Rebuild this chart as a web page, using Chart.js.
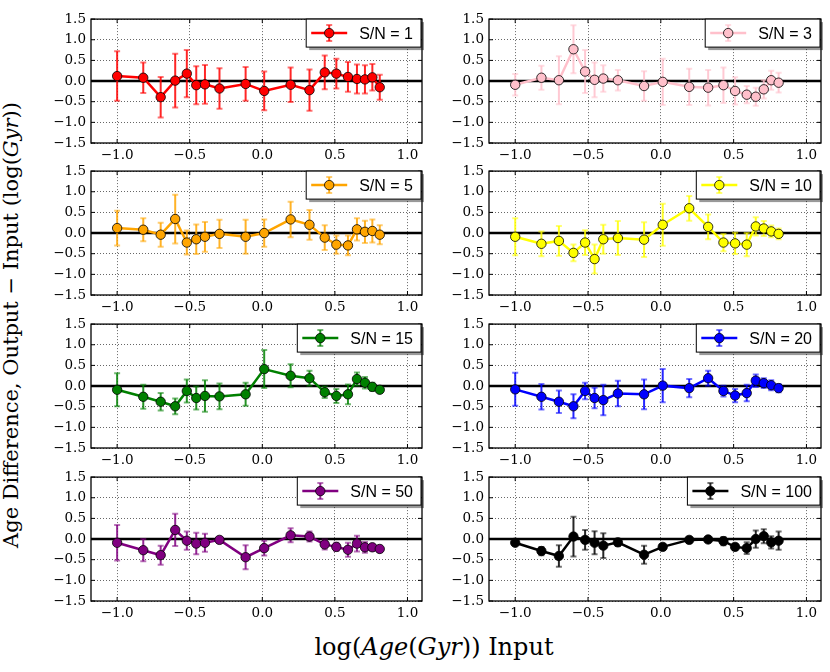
<!DOCTYPE html>
<html>
<head>
<meta charset="utf-8">
<script src="https://cdn.jsdelivr.net/npm/chart.js@4.4.1/dist/chart.umd.min.js"></script>
<style>
  html, body { margin: 0; padding: 0; background: #fff; }
  body { width: 830px; height: 672px; position: relative; overflow: hidden; }
  canvas { position: absolute; }
  .lab { position: absolute; font-family: "DejaVu Serif", serif; color: #000; white-space: nowrap; text-align: center; }
  #ylab { width: 600px; left: -289px; top: 313px; line-height: 24px; font-size: 21px; transform: rotate(-90deg); }
  #xlab { width: 400px; left: 234px; top: 632px; line-height: 30px; font-size: 24px; }
</style>
</head>
<body>
<div class="lab" id="ylab">Age Difference, Output − Input (log(<i>Gyr</i>))</div>
<div class="lab" id="xlab">log(<i>Age</i>(<i>Gyr</i>)) Input</div>
<script>
// x positions = log input age, shared by every panel
const logAgeIn = [-1.0, -0.82, -0.70, -0.60, -0.52, -0.455, -0.395, -0.295, -0.115, 0.013,
                  0.195, 0.325, 0.43, 0.51, 0.59, 0.652, 0.707, 0.758, 0.809];
const xTicks = [-1.0, -0.5, 0.0, 0.5, 1.0];
const yTicks = [-1.5, -1.0, -0.5, 0.0, 0.5, 1.0, 1.5];

const snLabels = ['S/N = 1', 'S/N = 3', 'S/N = 5', 'S/N = 10', 'S/N = 15', 'S/N = 20', 'S/N = 50', 'S/N = 100'];
const snColors = ['#ff0000', '#ffc0cb', '#ffa500', '#ffff00', '#008000', '#0000ff', '#800080', '#000000'];

const diffSN1 = [0.12, 0.08, -0.39, 0.01, 0.18, -0.10, -0.08, -0.18, -0.07, -0.24, -0.09, -0.22, 0.21, 0.18, 0.10, 0.05, 0.04, 0.09, -0.15];
const errSN1 = [0.60, 0.37, 0.49, 0.65, 0.57, 0.46, 0.47, 0.49, 0.41, 0.47, 0.42, 0.50, 0.41, 0.36, 0.36, 0.35, 0.34, 0.32, 0.30];
const diffSN3 = [-0.09, 0.08, 0.02, 0.77, 0.23, 0.03, 0.06, 0.02, -0.12, -0.02, -0.14, -0.16, -0.10, -0.24, -0.33, -0.38, -0.20, 0.02, -0.04];
const errSN3 = [0.26, 0.29, 0.58, 0.58, 0.52, 0.42, 0.32, 0.25, 0.36, 0.56, 0.44, 0.43, 0.43, 0.33, 0.21, 0.22, 0.22, 0.23, 0.24];
const diffSN5 = [0.12, 0.08, -0.04, 0.34, -0.23, -0.15, -0.09, -0.02, -0.09, 0.00, 0.33, 0.20, -0.11, -0.28, -0.30, 0.09, 0.03, 0.05, -0.04];
const errSN5 = [0.42, 0.28, 0.29, 0.59, 0.29, 0.36, 0.36, 0.34, 0.41, 0.33, 0.43, 0.36, 0.30, 0.22, 0.24, 0.27, 0.27, 0.28, 0.23];
const diffSN10 = [-0.09, -0.26, -0.19, -0.48, -0.23, -0.63, -0.15, -0.12, -0.16, 0.20, 0.60, 0.15, -0.23, -0.25, -0.28, 0.16, 0.11, 0.04, -0.02];
const errSN10 = [0.45, 0.30, 0.36, 0.20, 0.30, 0.35, 0.35, 0.41, 0.42, 0.51, 0.30, 0.30, 0.21, 0.26, 0.28, 0.22, 0.18, 0.14, 0.13];
const diffSN15 = [-0.09, -0.26, -0.38, -0.49, -0.12, -0.29, -0.24, -0.25, -0.20, 0.41, 0.25, 0.19, -0.15, -0.24, -0.20, 0.17, 0.08, -0.02, -0.09];
const errSN15 = [0.40, 0.29, 0.21, 0.19, 0.28, 0.28, 0.38, 0.31, 0.28, 0.46, 0.28, 0.18, 0.14, 0.17, 0.24, 0.16, 0.14, 0.10, 0.07];
const diffSN20 = [-0.08, -0.26, -0.38, -0.49, -0.12, -0.29, -0.34, -0.18, -0.20, 0.01, -0.05, 0.19, -0.12, -0.23, -0.17, 0.13, 0.07, 0.02, -0.05];
const errSN20 = [0.40, 0.31, 0.27, 0.29, 0.20, 0.25, 0.37, 0.31, 0.36, 0.40, 0.22, 0.18, 0.13, 0.16, 0.20, 0.15, 0.12, 0.12, 0.10];
const diffSN50 = [-0.09, -0.27, -0.39, 0.22, -0.04, -0.11, -0.09, -0.02, -0.44, -0.22, 0.09, 0.06, -0.13, -0.19, -0.26, -0.11, -0.20, -0.20, -0.24];
const errSN50 = [0.43, 0.27, 0.23, 0.39, 0.22, 0.26, 0.22, 0.07, 0.29, 0.18, 0.17, 0.12, 0.12, 0.10, 0.17, 0.19, 0.13, 0.07, 0.06];
const diffSN100 = [-0.09, -0.29, -0.41, 0.06, -0.02, -0.09, -0.16, -0.08, -0.38, -0.19, -0.02, -0.01, -0.05, -0.19, -0.22, 0.00, 0.07, -0.08, -0.04];
const errSN100 = [0.03, 0.10, 0.26, 0.48, 0.24, 0.28, 0.30, 0.09, 0.22, 0.05, 0.03, 0.03, 0.10, 0.07, 0.14, 0.21, 0.17, 0.15, 0.22];

const diffs = [diffSN1, diffSN3, diffSN5, diffSN10, diffSN15, diffSN20, diffSN50, diffSN100];
const errs = [errSN1, errSN3, errSN5, errSN10, errSN15, errSN20, errSN50, errSN100];

// panel geometry (plot area in page px)
const colLeft = [91, 489];
const colWidth = [331, 332];
const rowTop = [16, 168, 321, 474];
const plotH = 127;
const padL = 60, padT = 10, padR = 12, padB = 26;

function fmt(v) {
  return (v < 0 ? '\u2212' : '') + Math.abs(v).toFixed(1);
}
function rgba(hex, a) {
  const n = parseInt(hex.slice(1), 16);
  return 'rgba(' + (n >> 16) + ',' + ((n >> 8) & 255) + ',' + (n & 255) + ',' + a + ')';
}

// zero line, error bars (under the markers), frame and inward ticks
const errorBars = {
  id: 'errorBars',
  beforeDatasetsDraw(chart) {
    const { ctx, chartArea: a, scales: { x, y } } = chart;
    ctx.save();
    ctx.strokeStyle = '#000';
    ctx.lineWidth = 2.5;
    ctx.beginPath();
    ctx.moveTo(a.left, y.getPixelForValue(0));
    ctx.lineTo(a.right, y.getPixelForValue(0));
    ctx.stroke();

    chart.data.datasets.forEach(ds => {
      ds.data.forEach((p, i) => {
        const px = x.getPixelForValue(p.x);
        const t = y.getPixelForValue(p.y + ds.yErr[i]);
        const b = y.getPixelForValue(p.y - ds.yErr[i]);
        ctx.strokeStyle = rgba(ds.baseColor, 0.85);
        ctx.lineWidth = 2;
        ctx.beginPath();
        ctx.moveTo(px, t);
        ctx.lineTo(px, b);
        ctx.stroke();
        ctx.strokeStyle = rgba(ds.baseColor, 0.55);
        ctx.beginPath();
        ctx.moveTo(px - 3, t); ctx.lineTo(px + 3, t);
        ctx.moveTo(px - 3, b); ctx.lineTo(px + 3, b);
        ctx.stroke();
      });
    });
    ctx.restore();
  },
  afterDatasetsDraw(chart) {
    const { ctx, chartArea: a, scales: { x, y } } = chart;
    ctx.save();
    ctx.strokeStyle = '#000';
    ctx.lineWidth = 1;
    ctx.beginPath();
    xTicks.forEach(v => {
      const px = x.getPixelForValue(v);
      ctx.moveTo(px, a.bottom); ctx.lineTo(px, a.bottom - 4);
      ctx.moveTo(px, a.top); ctx.lineTo(px, a.top + 4);
    });
    yTicks.forEach(v => {
      const py = y.getPixelForValue(v);
      ctx.moveTo(a.left, py); ctx.lineTo(a.left + 4, py);
      ctx.moveTo(a.right, py); ctx.lineTo(a.right - 4, py);
    });
    ctx.stroke();
    ctx.lineWidth = 1.3;
    ctx.strokeRect(a.left, a.top, a.right - a.left, a.bottom - a.top);
    ctx.restore();
  }
};

// legend box with marker + error bar, shadow, top right corner
const legendBox = {
  id: 'legendBox',
  afterDraw(chart) {
    const { ctx, chartArea: a } = chart;
    const ds = chart.data.datasets[0];
    ctx.save();
    ctx.font = '16px "Liberation Sans", Arial, sans-serif';
    const tw = ctx.measureText(ds.label).width;
    const w = 53 + tw + 8, h = 28;
    const x0 = a.right - 1 - w, y0 = a.top;
    const cy = y0 + h / 2;
    ctx.fillStyle = 'rgba(0,0,0,0.4)';
    ctx.fillRect(x0 + 3, y0 + 3, w, h);
    ctx.fillStyle = '#fff';
    ctx.fillRect(x0, y0, w, h);
    ctx.strokeStyle = '#000';
    ctx.lineWidth = 1;
    ctx.strokeRect(x0, y0, w, h);

    ctx.strokeStyle = ds.baseColor;
    ctx.lineWidth = 2.5;
    ctx.beginPath();
    ctx.moveTo(x0 + 5, cy); ctx.lineTo(x0 + 41, cy);
    ctx.stroke();
    const mx = x0 + 23;
    ctx.strokeStyle = rgba(ds.baseColor, 0.85);
    ctx.lineWidth = 2;
    ctx.beginPath();
    ctx.moveTo(mx, cy - 8); ctx.lineTo(mx, cy + 8);
    ctx.stroke();
    ctx.strokeStyle = rgba(ds.baseColor, 0.55);
    ctx.beginPath();
    ctx.moveTo(mx - 3, cy - 8); ctx.lineTo(mx + 3, cy - 8);
    ctx.moveTo(mx - 3, cy + 8); ctx.lineTo(mx + 3, cy + 8);
    ctx.stroke();
    ctx.fillStyle = ds.baseColor;
    ctx.strokeStyle = '#000';
    ctx.lineWidth = 0.8;
    ctx.beginPath();
    ctx.arc(mx, cy, 4.7, 0, Math.PI * 2);
    ctx.fill();
    ctx.stroke();

    ctx.fillStyle = '#000';
    ctx.textBaseline = 'middle';
    ctx.fillText(ds.label, x0 + 53, cy + 1);
    ctx.restore();
  }
};

const tickFont = { family: '"DejaVu Serif", serif', size: 13.5 };

snLabels.forEach((label, i) => {
  const r = Math.floor(i / 2), c = i % 2;
  const cv = document.createElement('canvas');
  cv.width = colWidth[c] + padL + padR;
  cv.height = plotH + padT + padB;
  cv.style.left = (colLeft[c] - padL) + 'px';
  cv.style.top = (rowTop[r] - padT) + 'px';
  document.body.appendChild(cv);

  new Chart(cv.getContext('2d'), {
    type: 'line',
    data: {
      datasets: [{
        label: label,
        data: logAgeIn.map((v, k) => ({ x: v, y: diffs[i][k] })),
        yErr: errs[i],
        baseColor: snColors[i],
        borderColor: snColors[i],
        borderWidth: 2.5,
        tension: 0,
        fill: false,
        pointRadius: 4.7,
        pointBackgroundColor: snColors[i],
        pointBorderColor: '#000',
        pointBorderWidth: 0.8
      }]
    },
    options: {
      responsive: false,
      animation: false,
      layout: { padding: { top: padT, right: padR, left: 0, bottom: 0 } },
      plugins: { legend: { display: false }, tooltip: { enabled: false } },
      scales: {
        x: {
          type: 'linear',
          min: -1.18,
          max: 1.1,
          afterBuildTicks: s => { s.ticks = xTicks.map(v => ({ value: v })); },
          afterFit: s => { s.height = padB; },
          grid: { color: 'rgba(0,0,0,0.75)', lineWidth: 0.8, drawTicks: false },
          border: { display: false, dash: [1, 2] },
          ticks: { padding: 4, color: '#000', font: tickFont, maxRotation: 0, autoSkip: false, callback: fmt }
        },
        y: {
          min: -1.5,
          max: 1.5,
          afterBuildTicks: s => { s.ticks = yTicks.map(v => ({ value: v })); },
          afterFit: s => { s.width = padL; },
          grid: { color: 'rgba(0,0,0,0.75)', lineWidth: 0.8, drawTicks: false },
          border: { display: false, dash: [1, 2] },
          ticks: { padding: 5, color: '#000', font: tickFont, autoSkip: false, callback: fmt }
        }
      }
    },
    plugins: [errorBars, legendBox]
  });
});
</script>
</body>
</html>
